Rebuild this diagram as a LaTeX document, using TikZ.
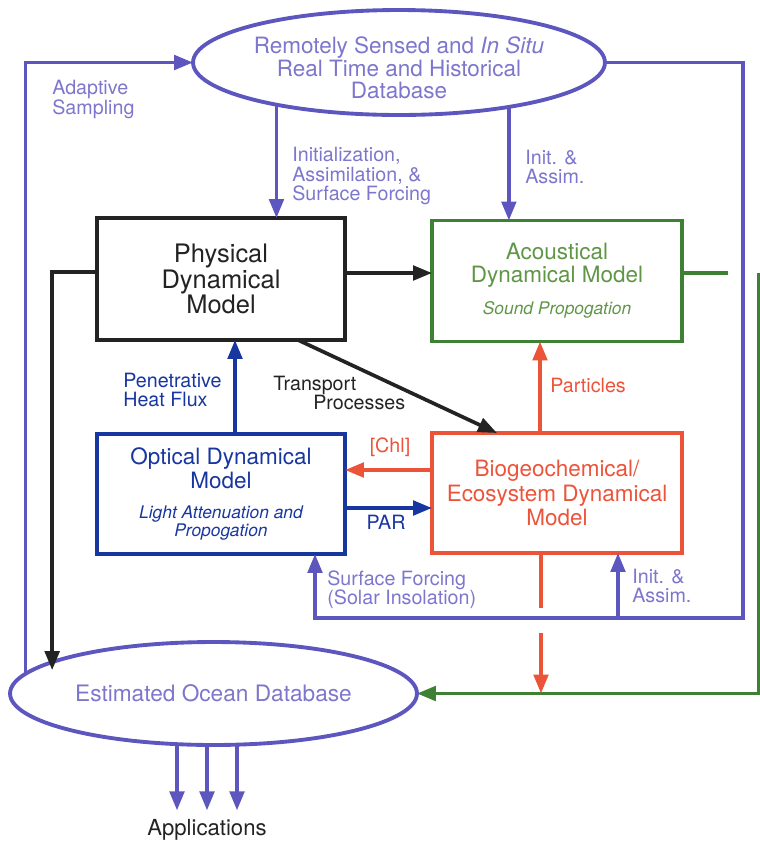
\documentclass[tikz,border=0pt]{standalone}
\usepackage{fontspec}
\setmainfont{TeX Gyre Heros}
\usetikzlibrary{calc,arrows.meta,shapes.geometric}
\definecolor{purpline}{RGB}{92,86,190}
\definecolor{purptext}{RGB}{125,118,205}
\definecolor{grnline}{RGB}{62,128,52}
\definecolor{grntext}{RGB}{95,150,70}
\definecolor{redline}{RGB}{236,84,58}
\definecolor{blueline}{RGB}{24,54,160}
\definecolor{blktext}{RGB}{35,35,35}
\tikzset{
  model/.style={draw, line width=2.2pt, rectangle, align=center, inner sep=0pt, outer sep=0pt},
  dbase/.style={draw=purpline, line width=2.2pt, ellipse, align=center, inner sep=0pt, outer sep=0pt, text=purptext},
  lbl/.style={inner sep=0pt, align=left, anchor=west, font=\fontsize{11.2}{11}\selectfont},
  flow/.style={line width=2.1pt, -{Triangle[length=0.38cm,width=0.29cm]}},
  link/.style={line width=2.1pt},
}
\begin{document}
\begin{tikzpicture}[x=0.02cm,y=-0.02cm]
\useasboundingbox (0,0) rectangle (760,843);
% databases
\node[dbase, minimum width=8.24cm, minimum height=2.1cm, inner xsep=-3pt, text height=41pt,
  font=\fontsize{12.8}{12.7}\selectfont] (remote) at (399,62.5)
  {Remotely Sensed and \textit{In Situ}\\Real Time and Historical\\Database};
\node[dbase, minimum width=8.14cm, minimum height=2.06cm,
  font=\fontsize{12.9}{14}\selectfont] (ocean) at (213.5,693.5) {Estimated Ocean Database};
\node[inner sep=5pt, text=blktext, font=\fontsize{12.6}{14}\selectfont] (apps) at (207,830) {Applications};

% models
\node[model, draw=blktext, text=blktext, minimum width=4.96cm, minimum height=2.44cm,
  font=\fontsize{14.5}{14.7}\selectfont] (phys) at (221,279) {Physical\\Dynamical\\Model};
\node[model, draw=grnline, text=grntext, minimum width=5cm, minimum height=2.42cm,
  font=\fontsize{12.8}{13}\selectfont] (acou) at (557,281)
  {Acoustical\\Dynamical Model\\[5.2pt]\fontsize{9.9}{10.5}\selectfont\itshape Sound Propogation};
\node[model, draw=blueline, text=blueline, minimum width=4.96cm, minimum height=2.4cm,
  font=\fontsize{12.8}{13.6}\selectfont] (optic) at (221,494)
  {Optical Dynamical\\Model\\[3.4pt]\fontsize{9.9}{10.5}\selectfont\itshape Light Attenuation and\\[-3.4pt]
   \fontsize{9.9}{10.5}\selectfont\itshape Propogation};
\node[model, draw=redline, text=redline, minimum width=5cm, minimum height=2.4cm,
  font=\fontsize{12.8}{14}\selectfont] (bio) at (557,493)
  {Biogeochemical/\\Ecosystem Dynamical\\Model};

% feeds from the remote database
\draw[flow, purpline] (remote.199) -- (remote.199 |- phys.north);
\draw[flow, purpline] (remote.338) -- (remote.338 |- acou.north);
\draw[flow, purpline] (ocean.174) |- (remote.west);
\coordinate (loopSE) at (743,618);
\coordinate (sfin) at ($(optic.south)+(94,0)$);
\coordinate (iain) at ($(bio.south)+(61,0)$);
\draw[flow, purpline] (remote.east) -| (loopSE) -| (sfin);
\draw[flow, purpline] (loopSE -| iain) -- (iain);

% physical model
\coordinate (pe) at ($(phys.east)+(0,-6)$);
\draw[flow, blktext] (pe) -- (pe -| acou.west);
\coordinate (pw) at ($(phys.west)+(0,-7)$);
\draw[flow, blktext, shorten >=-0.16cm] (pw) -| (ocean.169);
\draw[flow, blktext] ($(phys.south)+(77,0)$) -- ($(bio.north)+(-60,0)$);

% optical and biological exchanges
\coordinate (ph) at ($(optic.north)+(14,0)$);
\draw[flow, blueline] (ph) -- (ph |- phys.south);
\coordinate (chl) at ($(bio.west)+(0,-23)$);
\draw[flow, redline] (chl) -- (chl -| optic.east);
\coordinate (par) at ($(optic.east)+(0,14)$);
\draw[flow, blueline] (par) -- (par -| bio.west);
\coordinate (pt) at ($(bio.north)+(-17,0)$);
\draw[flow, redline] (pt) -- (pt |- acou.south);

% outputs to the estimated database
\coordinate (ga) at ($(acou.east)+(0,-8)$);
\draw[link, grnline] (ga) -- ++(46,0);
\draw[flow, grnline] ($(ga)+(77,0)$) |- (ocean.east);
\coordinate (bo) at ($(bio.south)+(-16,0)$);
\draw[link, redline] (bo) -- ++(0,55);
\draw[flow, redline] ($(bo)+(0,80)$) -- (bo |- ocean.east);
\foreach \dx in {-30,0,30}
  \draw[flow, purpline] ($(apps.north |- ocean.south)+(\dx,0)$) -- ($(apps.north)+(\dx,0)$);

% labels
\node[lbl, text=purptext] (initL) at (292,176) {Initialization,\\Assimilation, \&\\Surface Forcing};
\node[lbl, text=purptext] (initR) at (525,167) {Init. \&\\Assim.};
\node[lbl, text=purptext] (adapt) at (52,99.5) {Adaptive\\Sampling};
\node[lbl, text=blueline] (heat) at (123,390) {Penetrative\\Heat Flux};
\node[lbl, text=blktext] (trans) at (273,393) {Transport\\\hspace*{0.8cm}Processes};
\node[lbl, text=redline] (partl) at (550,385) {Particles};
\node[lbl, anchor=center, text=redline] (chll) at (390,447) {[Chl]};
\node[lbl, anchor=center, text=blueline] (parl) at (386,522) {PAR};
\node[lbl, text=purptext] (sfl) at (327,589.5) {Surface Forcing\\(Solar Insolation)};
\node[lbl, text=purptext] (iab) at (632,586) {Init. \&\\Assim.};
\end{tikzpicture}
\end{document}
